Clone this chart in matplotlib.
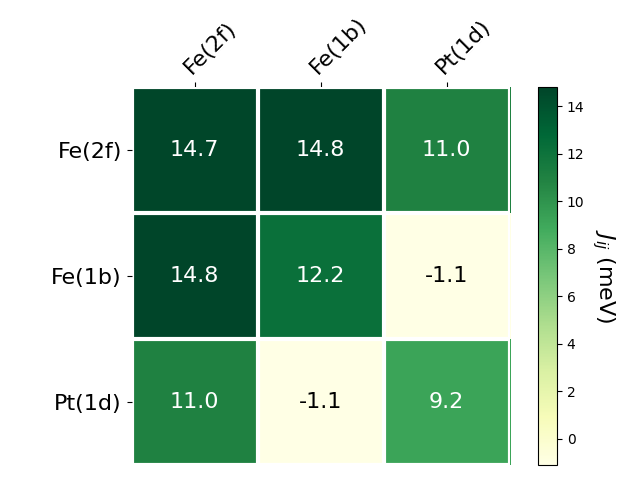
import numpy as np
import matplotlib.pyplot as plt

sites = ["Fe(2f)", "Fe(1b)", "Pt(1d)"]
jij = np.array([[14.7, 14.8, 11.0],
                [14.8, 12.2, -1.1],
                [11.0, -1.1, 9.2]])

fig = plt.figure(figsize=(6.4, 4.8), dpi=100)
ax = fig.add_axes([0.2055, 0.032, 0.591, 0.786])
cax = fig.add_axes([0.8406, 0.031, 0.0297, 0.787])

im = ax.imshow(jij, cmap="YlGn", vmin=jij.min(), vmax=jij.max(), aspect="auto")
cbar = fig.colorbar(im, cax=cax)
cbar.set_label("$J_{ij}$ (meV)", rotation=-90, va="bottom", fontsize=16)

ax.set_xticks(np.arange(len(sites)))
ax.set_yticks(np.arange(len(sites)))
ax.set_xticklabels(sites, fontsize=16)
ax.set_yticklabels(sites, fontsize=16)
ax.tick_params(top=True, bottom=False, labeltop=True, labelbottom=False)
plt.setp(ax.get_xticklabels(), rotation=45, ha="left", rotation_mode="anchor")

for s in ax.spines.values():
    s.set_visible(False)
ax.set_xticks(np.arange(len(sites) + 1) - .5, minor=True)
ax.set_yticks(np.arange(len(sites) + 1) - .5, minor=True)
ax.grid(which="minor", color="w", linestyle="-", linewidth=3)
ax.tick_params(which="minor", bottom=False, left=False, top=False)

# valeurs dans les cases
for i in range(len(sites)):
    for j in range(len(sites)):
        v = jij[i, j]
        c = "white" if v > 5 else "black"
        ax.text(j, i, f"{v:.1f}", ha="center", va="center", color=c, fontsize=16)

plt.savefig("out.png")
